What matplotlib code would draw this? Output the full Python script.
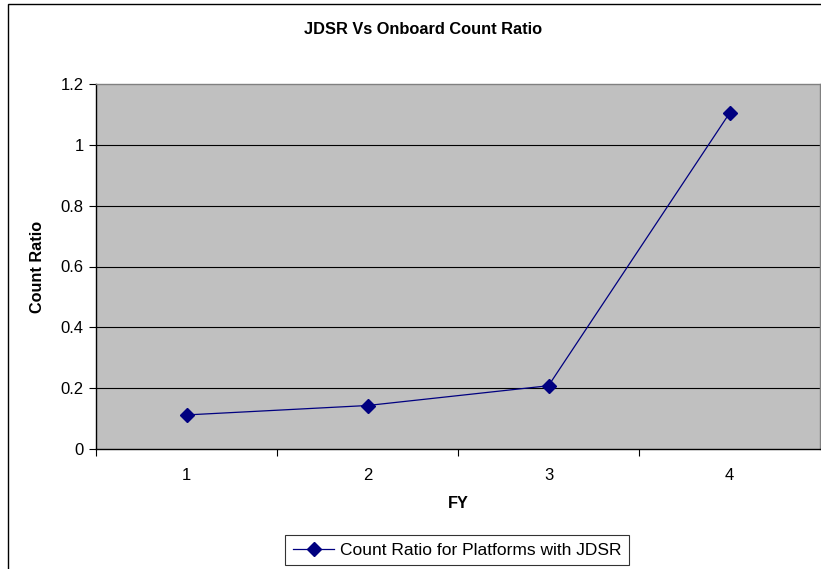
import matplotlib

matplotlib.use("Agg")
import matplotlib.pyplot as plt
from matplotlib.patches import Rectangle

plt.rcParams["font.family"] = ["Liberation Sans", "DejaVu Sans"]

# data
fy = [1, 2, 3, 4]
count_ratio = [0.112, 0.143, 0.208, 1.104]
y_ticks = [0, 0.2, 0.4, 0.6, 0.8, 1.0, 1.2]
y_tick_labels = ["0", "0.2", "0.4", "0.6", "0.8", "1", "1.2"]

W, H = 821, 569
fig = plt.figure(figsize=(W / 100, H / 100), dpi=100)

# outer chart border (right/bottom cropped in the original)
fig.patches.append(Rectangle((8 / W, -0.1), 1.2, 1 - 4 / H + 0.1,
                             transform=fig.transFigure, fill=False,
                             edgecolor="black", linewidth=1.0))

ax = fig.add_axes([96 / W, (H - 449) / H, 724 / W, 365 / H])
ax.set_facecolor("#C0C0C0")

ax.plot(fy, count_ratio, color="#000080", linewidth=0.9, marker="D",
        markersize=7.5, label="Count Ratio for Platforms with JDSR", zorder=3)

ax.set_xlim(0.5, 4.5)
ax.set_ylim(0, 1.2)
ax.set_yticks(y_ticks)
ax.set_yticklabels(y_tick_labels)
ax.set_xticks(fy)
ax.set_xticks([0.5, 1.5, 2.5, 3.5], minor=True)
ax.tick_params(axis="x", which="major", length=0, pad=14, labelsize=12)
ax.tick_params(axis="x", which="minor", length=5, width=0.8, direction="out")
ax.tick_params(axis="y", length=5, width=0.8, direction="out", pad=4,
               labelsize=12)

for v in y_ticks[1:-1]:
    ax.axhline(v, color="black", linewidth=0.8, zorder=1)

ax.spines["left"].set_color("black")
ax.spines["bottom"].set_color("black")
ax.spines["top"].set_color("#808080")
ax.spines["right"].set_color("#808080")
for s in ax.spines.values():
    s.set_linewidth(1.0)

ax.set_xlabel("FY", fontweight="bold", fontsize=11.8, labelpad=9)
ax.set_ylabel("Count Ratio", fontweight="bold", fontsize=11.7)
ax.yaxis.set_label_coords(-(96 - 45) / 724, 0.5)
fig.text(423 / W, 1 - 29 / H, "JDSR Vs Onboard Count Ratio",
         ha="center", va="center", fontweight="bold", fontsize=11.8)

leg = fig.legend(loc="center", bbox_to_anchor=(457 / W, 1 - 550 / H),
                 fontsize=12.5, frameon=True, fancybox=False, handlelength=2.4,
                 borderpad=0.45, handletextpad=0.3, borderaxespad=0)
leg.get_frame().set_edgecolor("black")
leg.get_frame().set_linewidth(0.8)

fig.savefig("out.png", dpi=100)
